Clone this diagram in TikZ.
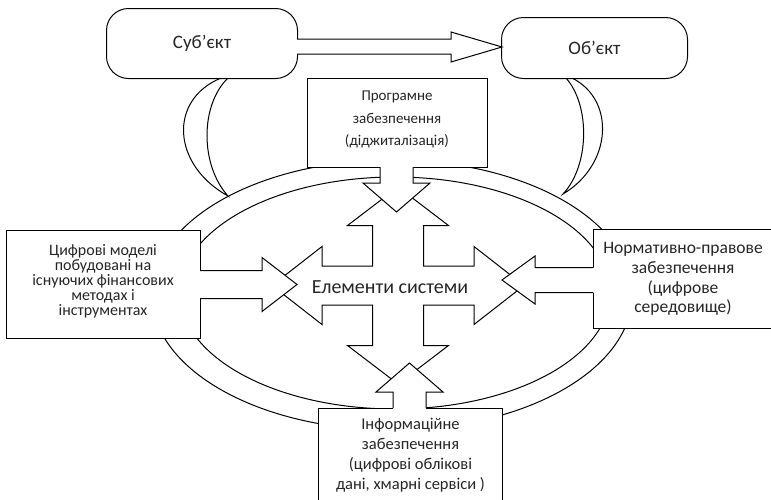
\documentclass[tikz,border=0pt]{standalone}
\usepackage{fontspec}
\setmainfont{Carlito}
\begin{document}
\begin{tikzpicture}[x=1pt,y=-1pt,line width=1pt,line join=miter,
  box/.style={draw,fill=white,rectangle,inner sep=0pt,anchor=north west,align=center,text=black!85},
  pill/.style={draw,fill=white,rounded corners=22pt,inner sep=0pt,anchor=north west,align=center,text=black!85},
  lbl/.style={align=center,text=black!85,inner sep=0pt}]
\useasboundingbox (0,0) rectangle (771,499);
% ring (two ovals)
\draw (392,295) ellipse [x radius=240, y radius=135];
\draw (395,293) ellipse [x radius=215, y radius=116];
% crescents
\draw[fill=white] (221,78) .. controls (168,100) and (172,165) .. (228,196) .. controls (200,165) and (200,105) .. (228,78) -- cycle;
\draw[fill=white] (572,78) .. controls (616,100) and (612,165) .. (563,194) .. controls (590,165) and (590,105) .. (566,78) -- cycle;
% central four-way arrow
\draw[fill=white] (398,187) -- (448.5,225.5) -- (423.5,225.5) -- (423.5,266) -- (474,266) -- (474,246.5) -- (524,285.5) -- (474,324.5) -- (474,305) -- (423.5,305) -- (423.5,345.5) -- (448.5,345.5) -- (398,384) -- (347.5,345.5) -- (372.5,345.5) -- (372.5,305) -- (322,305) -- (322,324.5) -- (272,285.5) -- (322,246.5) -- (322,266) -- (372.5,266) -- (372.5,225.5) -- (347.5,225.5) -- cycle;
\node[lbl,font=\fontsize{20}{23}\selectfont] (elem) at (390,287) {Елементи системи};
% boxes
\node[pill,minimum width=191pt,minimum height=70pt,font=\fontsize{19}{23}\selectfont] (subj) at (106,8) {Суб’єкт};
\node[pill,minimum width=186pt,minimum height=61pt,font=\fontsize{19}{23}\selectfont] (obj) at (501,17) {Об’єкт};
\node[box,minimum width=180pt,minimum height=89pt] (prog) at (307,78) {};
\node[lbl,font=\fontsize{15}{22.5}\selectfont] (progtext) at (397,119.5) {Програмне\\забезпечення\\(діджиталізація)};
\node[box,minimum width=194pt,minimum height=108pt] (models) at (6,230) {};
\node[lbl,font=\fontsize{16}{15}\selectfont] (modelstext) at (103,281) {Цифрові моделі\\побудовані на\\існуючих фінансових\\методах і\\інструментах};
\node[box,minimum width=179pt,minimum height=99pt,font=\fontsize{17.5}{19.7}\selectfont] (norm) at (593,229) {Нормативно-правове\\забезпечення\\(цифрове\\середовище)};
\node[box,minimum width=184pt,minimum height=94pt,font=\fontsize{16.5}{20}\selectfont] (info) at (318,408) {Інформаційне\\забезпечення\\(цифрові облікові\\дані, хмарні сервіси )};
% block arrows
% subject -> object
\fill[white] (297,39) -- (451,39) -- (451,32) -- (502,47) -- (451,62) -- (451,54) -- (297,54) -- cycle;
\draw (297,39) -- (451,39) -- (451,32) -- (502,47) -- (451,62) -- (451,54) -- (297,54);
% from top box
\fill[white] (380,166) -- (380,183) -- (363,183) -- (396.5,212) -- (430,183) -- (413,183) -- (413,166) -- cycle;
\draw (380,167) -- (380,183) -- (363,183) -- (396.5,212) -- (430,183) -- (413,183) -- (413,167);
% from left box
\fill[white] (199,270.5) -- (262,270.5) -- (262,257.5) -- (297,284.5) -- (262,311.5) -- (262,298.5) -- (199,298.5) -- cycle;
\draw (200,270.5) -- (262,270.5) -- (262,257.5) -- (297,284.5) -- (262,311.5) -- (262,298.5) -- (200,298.5);
% from right box
\fill[white] (594,267.5) -- (535,267.5) -- (535,256) -- (502,280) -- (535,304) -- (535,292.5) -- (594,292.5) -- cycle;
\draw (593,267.5) -- (535,267.5) -- (535,256) -- (502,280) -- (535,304) -- (535,292.5) -- (593,292.5);
% from bottom box
\fill[white] (393,409) -- (393,392) -- (376,392) -- (409.5,363) -- (443,392) -- (426,392) -- (426,409) -- cycle;
\draw (393,408) -- (393,392) -- (376,392) -- (409.5,363) -- (443,392) -- (426,392) -- (426,408);
\end{tikzpicture}
\end{document}
